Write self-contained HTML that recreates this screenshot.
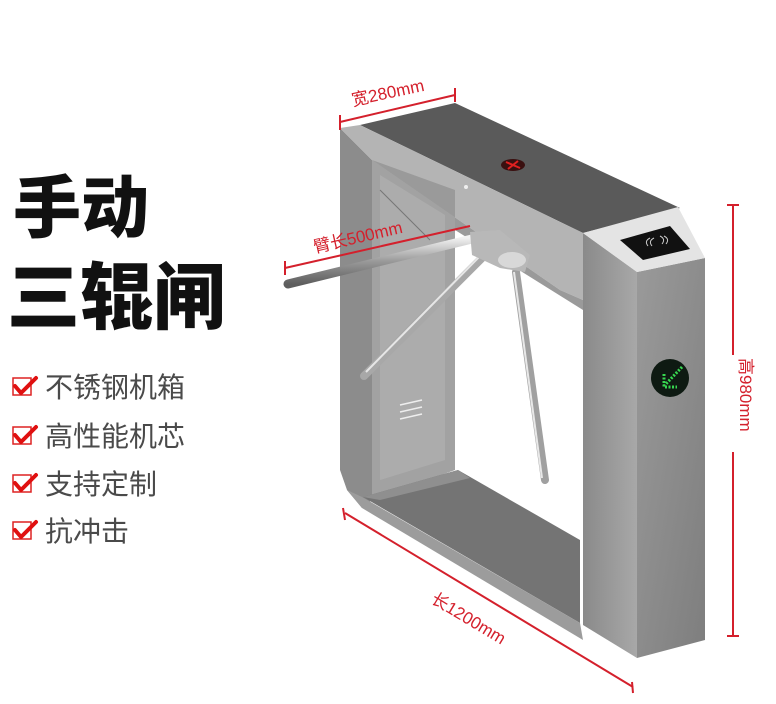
<!DOCTYPE html>
<html><head><meta charset="utf-8"><style>
html,body{margin:0;padding:0;background:#fff;}
svg{display:block}
text{font-family:"Liberation Sans","Noto Sans CJK SC",sans-serif}
</style></head><body>
<svg width="776" height="704" viewBox="0 0 776 704" xmlns="http://www.w3.org/2000/svg">
<defs>
<linearGradient id="post" x1="0" x2="1" y1="0" y2="0"><stop offset="0" stop-color="#8a8a8a"/><stop offset="1" stop-color="#a8a8a8"/></linearGradient>
<linearGradient id="side" x1="0" x2="1" y1="0" y2="1"><stop offset="0" stop-color="#9a9a9a"/><stop offset="1" stop-color="#7e7e7e"/></linearGradient>
<linearGradient id="rod" x1="0" x2="0" y1="0" y2="1"><stop offset="0" stop-color="#f2f2f2"/><stop offset="0.5" stop-color="#9a9a9a"/><stop offset="1" stop-color="#5e5e5e"/></linearGradient>
</defs>
<text x="13" y="232" font-size="68" font-weight="900" fill="#111">手动</text>
<text x="7" y="323" font-size="73" font-weight="900" fill="#111">三辊闸</text>
<g font-size="28" fill="#4a4a4a">
<text x="45" y="397">不锈钢机箱</text>
<text x="45" y="446">高性能机芯</text>
<text x="45" y="494">支持定制</text>
<text x="45" y="541">抗冲击</text>
</g>
<g fill="none" stroke="#d22" stroke-width="1.5">
<rect x="13" y="378" width="18" height="17"/><rect x="13" y="427" width="18" height="17"/><rect x="13" y="475" width="18" height="17"/><rect x="13" y="522" width="18" height="17"/>
</g>
<g fill="none" stroke="#e01010" stroke-width="4" stroke-linecap="round" stroke-linejoin="round">
<path d="M15 386 L21 393 L36 378"/><path d="M15 435 L21 442 L36 427"/><path d="M15 483 L21 490 L36 475"/><path d="M15 530 L21 537 L36 522"/>
</g>
<polygon points="340,128 372,160 372,500 362,508 347,490 340,470" fill="#8c8c8c"/>
<polygon points="372,160 455,190 455,470 372,500" fill="#a2a2a2"/>
<polygon points="380,175 445,215 445,460 380,480" fill="#b0b0b0" opacity="0.7"/>
<line x1="380" y1="190" x2="430" y2="240" stroke="#777" stroke-width="1"/>
<g stroke="#eee" stroke-width="1.5"><line x1="400" y1="405" x2="422" y2="400"/><line x1="400" y1="412" x2="422" y2="407"/><line x1="400" y1="419" x2="422" y2="414"/></g>
<polygon points="363,497 458,470 580,540 580,623" fill="#747474"/>
<polygon points="363,497 458,470 470,478 380,500" fill="#8f8f8f"/>
<polygon points="347,490 362,497 580,623 583,640 362,508" fill="#9c9c9c"/>
<polygon points="360,125 455,103 680,208 583,233" fill="#5a5a5a"/>
<polygon points="340,128 360,125 583,233 583,300 560,290 372,160" fill="#b4b4b4"/>
<polygon points="372,160 560,290 583,300 583,310 455,230 455,190" fill="#9a9a9a"/>
<ellipse cx="513" cy="165" rx="12" ry="6" fill="#3a1010"/>
<path d="M506 162 L520 168 M508 169 L518 161" stroke="#e02020" stroke-width="2"/>
<circle cx="466" cy="187" r="2" fill="#eee"/>
<polygon points="583,233 637,272 637,658 583,625" fill="url(#post)"/>
<polygon points="637,272 705,258 705,640 637,658" fill="url(#side)"/>
<polygon points="583,233 678,207 705,258 637,272" fill="#e4e4e4"/>
<polygon points="620,240 670,226 690,249 643,260" fill="#111"/>
<path d="M648 246 q-4 -5 2 -8 M652 246 q-4 -5 2 -8 M662 244 q4 -5 -2 -8 M666 244 q4 -5 -2 -8" stroke="#ccc" fill="none" stroke-width="1"/>
<circle cx="670" cy="378" r="19" fill="#0e1a12"/>
<path d="M682 367 L664 386 M664 374 L664 387 L677 387" stroke="#37d650" stroke-width="3" fill="none" stroke-dasharray="2 1.5"/>
<line x1="288" y1="284" x2="476" y2="238" stroke="url(#rod)" stroke-width="9" stroke-linecap="round"/>
<line x1="364" y1="376" x2="482" y2="258" stroke="#a8a8a8" stroke-width="8" stroke-linecap="round"/>
<line x1="366" y1="372" x2="480" y2="256" stroke="#e6e6e6" stroke-width="2"/>
<line x1="516" y1="272" x2="545" y2="480" stroke="#a0a0a0" stroke-width="8" stroke-linecap="round"/>
<line x1="514" y1="272" x2="542" y2="478" stroke="#e8e8e8" stroke-width="2"/>
<polygon points="470,232 500,230 530,255 525,272 500,268 472,255" fill="#b8b8b8"/>
<ellipse cx="512" cy="260" rx="14" ry="8" fill="#d8d8d8"/>
<g stroke="#d4202c" stroke-width="2" fill="none">
<line x1="340" y1="122" x2="455" y2="95"/><line x1="340" y1="115" x2="340" y2="130"/><line x1="455" y1="88" x2="455" y2="102"/>
<line x1="285" y1="268" x2="470" y2="226"/><line x1="285" y1="261" x2="285" y2="275"/>
<line x1="733" y1="205" x2="733" y2="355"/><line x1="733" y1="452" x2="733" y2="636"/><line x1="727" y1="205" x2="739" y2="205"/><line x1="727" y1="636" x2="739" y2="636"/>
<line x1="345" y1="513" x2="633" y2="687"/><line x1="343" y1="508" x2="345" y2="520"/><line x1="632" y1="682" x2="633" y2="693"/>
</g>
<g fill="#d4202c" font-size="17">
<text x="353" y="106" transform="rotate(-12 353 106)">宽280mm</text>
<text x="315" y="253" transform="rotate(-13 315 253)">臂长500mm</text>
<text x="740" y="358" transform="rotate(90 740 358)">高980mm</text>
<text x="430" y="602" transform="rotate(31 430 602)">长1200mm</text>
</g>
</svg>
</body></html>
